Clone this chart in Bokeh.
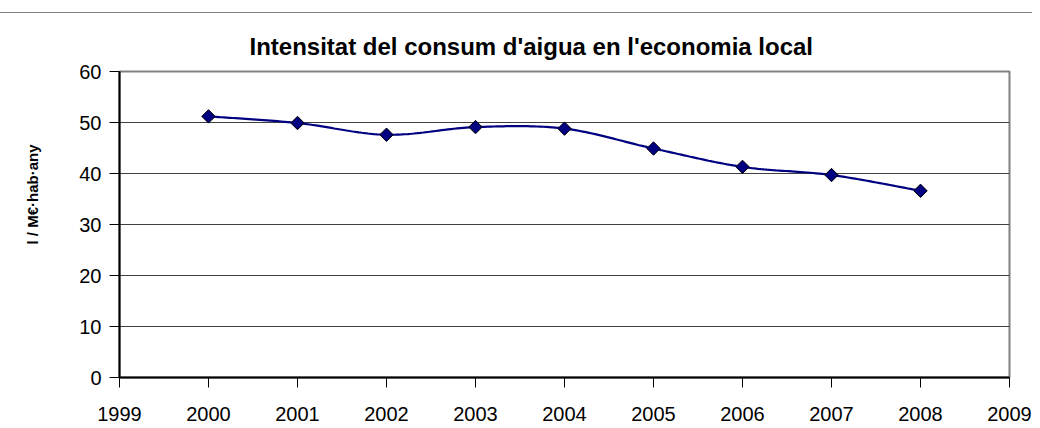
import numpy as np
from bokeh.plotting import figure
from bokeh.models import Range1d, FixedTicker, Title
from bokeh.embed import file_html
from bokeh.resources import INLINE

years = [2000, 2001, 2002, 2003, 2004, 2005, 2006, 2007, 2008]
intensity = [51.2, 49.9, 47.6, 49.1, 48.8, 44.9, 41.3, 39.7, 36.6]
x_ticks = list(range(1999, 2010))
y_ticks = [0, 10, 20, 30, 40, 50, 60]
title_text = "Intensitat del consum d'aigua en l'economia local"
y_label = "l / M€·hab·any"

# Excel-style smoothed line (cubic Bezier, Catmull-Rom control points)
def smooth(xs, ys, n=30):
    xs = np.asarray(xs, float); ys = np.asarray(ys, float)
    px = np.concatenate([[xs[0]], xs, [xs[-1]]])
    py = np.concatenate([[ys[0]], ys, [ys[-1]]])
    ox, oy = [], []
    t = np.linspace(0, 1, n)
    for i in range(1, len(px) - 2):
        p0 = np.array([px[i], py[i]]); p3 = np.array([px[i + 1], py[i + 1]])
        p1 = p0 + (np.array([px[i + 1], py[i + 1]]) - np.array([px[i - 1], py[i - 1]])) / 6
        p2 = p3 - (np.array([px[i + 2], py[i + 2]]) - np.array([px[i], py[i]])) / 6
        b = ((1 - t) ** 3)[:, None] * p0 + (3 * (1 - t) ** 2 * t)[:, None] * p1 \
            + (3 * (1 - t) * t ** 2)[:, None] * p2 + (t ** 3)[:, None] * p3
        ox.extend(b[:, 0]); oy.extend(b[:, 1])
    return ox, oy

sx, sy = smooth(years, intensity)

p = figure(width=1047, height=410, output_backend="svg", toolbar_location=None,
           x_range=Range1d(1999, 2009), y_range=Range1d(0, 60),
           min_border_left=0, min_border_right=23, min_border_top=58, min_border_bottom=45)
p.margin = (13, 0, 0, -15)
p.styles = {"box-shadow": "0 -1px 0 0 #808080"}

p.add_layout(Title(text=title_text, align="left", text_font="Liberation Sans",
                   text_font_size="24px", text_font_style="bold", text_color="black",
                   offset=130, standoff=23), "above")

p.add_layout(Title(text=y_label, align="left",
                   text_font="Liberation Sans",
                   text_font_size="15px", text_font_style="bold", text_color="black",
                   offset=133, standoff=72), "left")

p.line(sx, sy, line_color="#000080", line_width=2.2)
p.scatter(years, intensity, marker="square", angle=np.pi / 4, size=9.5,
          fill_color="#000080", line_color="black", line_width=1)

p.xgrid.grid_line_color = None
p.ygrid.grid_line_color = "#404040"
p.ygrid.grid_line_width = 1
p.outline_line_color = "#808080"
p.outline_line_width = 2

for ax in (p.xaxis[0], p.yaxis[0]):
    ax.axis_line_color = "black"
    ax.axis_line_width = 2
    ax.major_tick_line_color = "black"
    ax.major_tick_out = 10
    ax.major_tick_in = 0
    ax.minor_tick_line_color = None
    ax.major_label_text_font = "Liberation Sans"
    ax.major_label_text_font_size = "20px"
    ax.major_label_text_color = "black"

p.xaxis[0].ticker = FixedTicker(ticks=x_ticks)
p.yaxis[0].ticker = FixedTicker(ticks=y_ticks)
p.xaxis[0].major_label_standoff = 19
p.yaxis[0].major_label_standoff = 8

open("out.html", "w").write(file_html(p, INLINE))
